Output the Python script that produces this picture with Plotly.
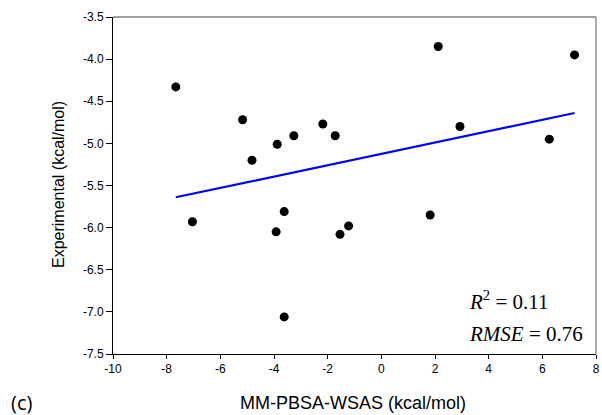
import plotly.graph_objects as go

calc_x = [-7.66, -5.17, -4.82, -3.88, -3.26, -2.18, -1.72, 2.12, 2.93, 6.26, 7.20,
          -7.04, -3.92, -3.62, -3.62, -1.54, -1.22, 1.82]
exp_y = [-4.33, -4.72, -5.20, -5.01, -4.91, -4.77, -4.91, -3.85, -4.80, -4.95, -3.95,
         -5.93, -6.05, -7.06, -5.81, -6.08, -5.98, -5.85]

fit_x = [-7.66, 7.20]
fit_y = [-5.64, -4.64]

x_ticks = [-10, -8, -6, -4, -2, 0, 2, 4, 6, 8]
y_ticks = [-3.5, -4.0, -4.5, -5.0, -5.5, -6.0, -6.5, -7.0, -7.5]

W, H = 602, 415
ML, MR, MT, MB = 113, 6, 17, 61
PW, PH = W - ML - MR, H - MT - MB


def px(x):
    return (x - ML) / PW


def py(y):
    return (H - MB - y) / PH


fig = go.Figure()
fig.add_trace(go.Scatter(x=fit_x, y=fit_y, mode="lines",
                         line=dict(color="#0000ff", width=2.2), hoverinfo="skip"))
fig.add_trace(go.Scatter(x=calc_x, y=exp_y, mode="markers",
                         marker=dict(color="black", size=9)))

fig.update_layout(
    width=W, height=H,
    margin=dict(l=ML, r=MR, t=MT, b=MB),
    paper_bgcolor="white", plot_bgcolor="white",
    showlegend=False,
    font=dict(family="Liberation Sans, Arial", size=12, color="black"),
    xaxis=dict(range=[-10, 8], tickvals=x_ticks, ticktext=[str(v) for v in x_ticks],
               showgrid=False, zeroline=False, showline=True, linecolor="black", linewidth=1,
               ticks="outside", ticklen=4, tickcolor="black", automargin=False),
    yaxis=dict(range=[-7.5, -3.5], tickvals=y_ticks, ticktext=["%.1f" % v for v in y_ticks],
               showgrid=False, zeroline=False, showline=True, linecolor="black", linewidth=1,
               ticks="outside", ticklen=6, tickcolor="black", automargin=False),
    shapes=[
        dict(type="line", xref="paper", yref="paper", x0=0, x1=1, y0=1, y1=1,
             line=dict(color="#808080", width=1.3)),
        dict(type="line", xref="paper", yref="paper", x0=1, x1=1, y0=0, y1=1,
             line=dict(color="#808080", width=1.3)),
    ],
    annotations=[
        dict(x=3.2, y=-6.87, xref="x", yref="y", xanchor="left", yanchor="middle",
             text="<i>R</i><sup>2</sup> = 0.11", showarrow=False,
             font=dict(family="Liberation Serif, Times New Roman", size=21, color="black")),
        dict(x=3.2, y=-7.26, xref="x", yref="y", xanchor="left", yanchor="middle",
             text="<i>RMSE</i> = 0.76", showarrow=False,
             font=dict(family="Liberation Serif, Times New Roman", size=21, color="black")),
        dict(x=px(353), y=py(403), xref="paper", yref="paper", showarrow=False,
             text="MM-PBSA-WSAS (kcal/mol)", xanchor="center", yanchor="middle",
             font=dict(size=18)),
        dict(x=px(58), y=py(185), xref="paper", yref="paper", showarrow=False,
             text="Experimental (kcal/mol)", xanchor="center", yanchor="middle",
             textangle=-90, font=dict(size=16)),
        dict(x=px(21), y=py(402), xref="paper", yref="paper", showarrow=False,
             text="(c)", xanchor="center", yanchor="middle",
             font=dict(family="Open Sans, Liberation Sans", size=20, color="black")),
    ],
)

fig.write_html("out.html", config={"displayModeBar": False},
               post_script="document.body.style.margin='0';document.body.style.overflow='hidden';")
